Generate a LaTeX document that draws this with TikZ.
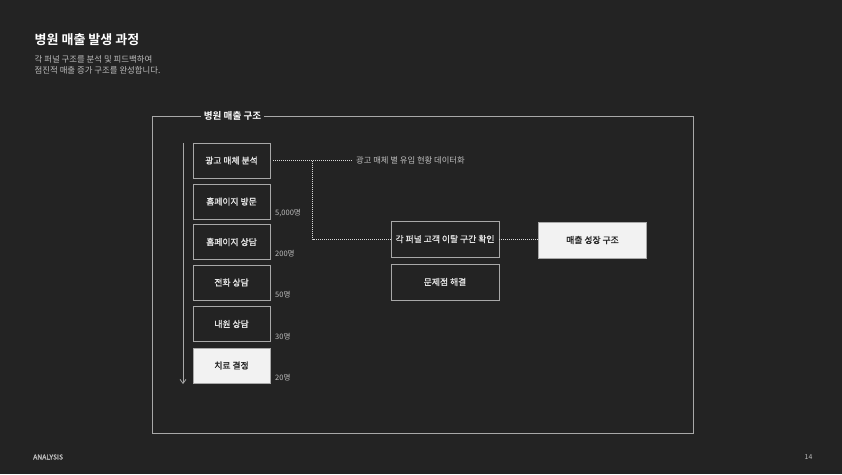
\documentclass[tikz,border=0pt]{standalone}
\usepackage{fontspec}
\setmainfont{Noto Sans CJK KR}[BoldFont={Noto Sans CJK KR Bold}]
\newfontfamily\krmed{Noto Sans CJK KR}[FakeBold=1.2]
\usetikzlibrary{arrows.meta}
\definecolor{bg}{HTML}{232323}
\definecolor{linegray}{HTML}{A8A8A8}
\definecolor{txtgray}{HTML}{BDBDBD}
\definecolor{boxtxt}{HTML}{E4E4E4}
\definecolor{boxfill}{HTML}{F2F2F2}
\tikzset{
  stepbox/.style={draw=linegray, line width=0.8pt, minimum width=77pt, minimum height=35pt, inner sep=0pt, text=boxtxt, font=\krmed\fontsize{8.8}{10}\selectfont},
  widebox/.style={stepbox, minimum width=108pt, minimum height=36pt},
  litbox/.style={fill=boxfill, text=black!85},
  countlbl/.style={anchor=west, inner sep=0pt, text=txtgray, font=\fontsize{7.5}{8}\selectfont},
  dotline/.style={draw=white!85!black, line width=1pt, dash pattern=on 1pt off 1pt},
}
\begin{document}
\begin{tikzpicture}[x=1pt,y=-1pt]
\fill[bg] (0,0) rectangle (842,474);
\useasboundingbox (0,0) rectangle (842,474);
% title
\node[anchor=west, inner sep=0pt, text=white, font=\bfseries\fontsize{13}{15}\selectfont] (title) at (34.5,40) {병원 매출 발생 과정};
\node[anchor=west, inner sep=0pt, text=txtgray, font=\fontsize{8.4}{10}\selectfont] (sub1) at (34.5,59.5) {각 퍼널 구조를 분석 및 피드백하여};
\node[anchor=west, inner sep=0pt, text=txtgray, font=\fontsize{8.4}{10}\selectfont] (sub2) at (34.5,70.5) {점진적 매출 증가 구조를 완성합니다.};
% frame
\draw[linegray, line width=0.8pt] (152,116) rectangle (693,433);
\node[fill=bg, inner xsep=3pt, inner ysep=1pt, text=white, font=\bfseries\fontsize{9.6}{11}\selectfont] (frametitle) at (232.5,116) {병원 매출 구조};
% boxes left
\node[stepbox] (b1) at (231.5,160.5) {광고 매체 분석};
\node[stepbox] (b2) at (231.5,201.5) {홈페이지 방문};
\node[stepbox] (b3) at (231.5,242) {홈페이지 상담};
\node[stepbox] (b4) at (231.5,282.5) {전화 상담};
\node[stepbox] (b5) at (231.5,324) {내원 상담};
\node[stepbox, litbox] (b6) at (231.5,365.5) {치료 결정};
% counts
\node[countlbl] (c2) at (275,213) {5,000명};
\node[countlbl] (c3) at (275,254) {200명};
\node[countlbl] (c4) at (275,295) {50명};
\node[countlbl] (c5) at (275,336.5) {30명};
\node[countlbl] (c6) at (275,377.5) {20명};
% arrow
\coordinate (atop) at (183,143);
\coordinate (abot) at (183,384);
\draw[linegray, line width=0.8pt, -{Straight Barb[length=4pt,width=6pt]}] (atop) -- (abot);
% middle
\node[widebox] (m1) at (445,239) {각 퍼널 고객 이탈 구간 확인};
\node[widebox] (m2) at (445,282) {문제점 해결};
\node[widebox, litbox] (r1) at (592.5,240) {매출 성장 구조};
% data label
\node[anchor=west, inner sep=0pt, text=txtgray, font=\fontsize{8.3}{9}\selectfont] (dl) at (356,160.5) {광고 매체 별 유입 현황 데이터화};
\coordinate (j1) at (312.5,160.5);
\draw[dotline] ([xshift=3pt]b1.east) -- ([xshift=-4pt]dl.west);
\draw[dotline] (j1) |- (m1.west);
\draw[dotline] (m1.east) -- (m1.east -| r1.west);
% footer
\node[anchor=west, inner sep=0pt, text=txtgray, font=\krmed\fontsize{6.8}{7}\selectfont] (foot) at (33,457) {ANALYSIS};
\node[anchor=center, inner sep=0pt, text=txtgray, font=\fontsize{6.8}{7}\selectfont] (pg) at (808.5,457) {14};
\end{tikzpicture}
\end{document}
